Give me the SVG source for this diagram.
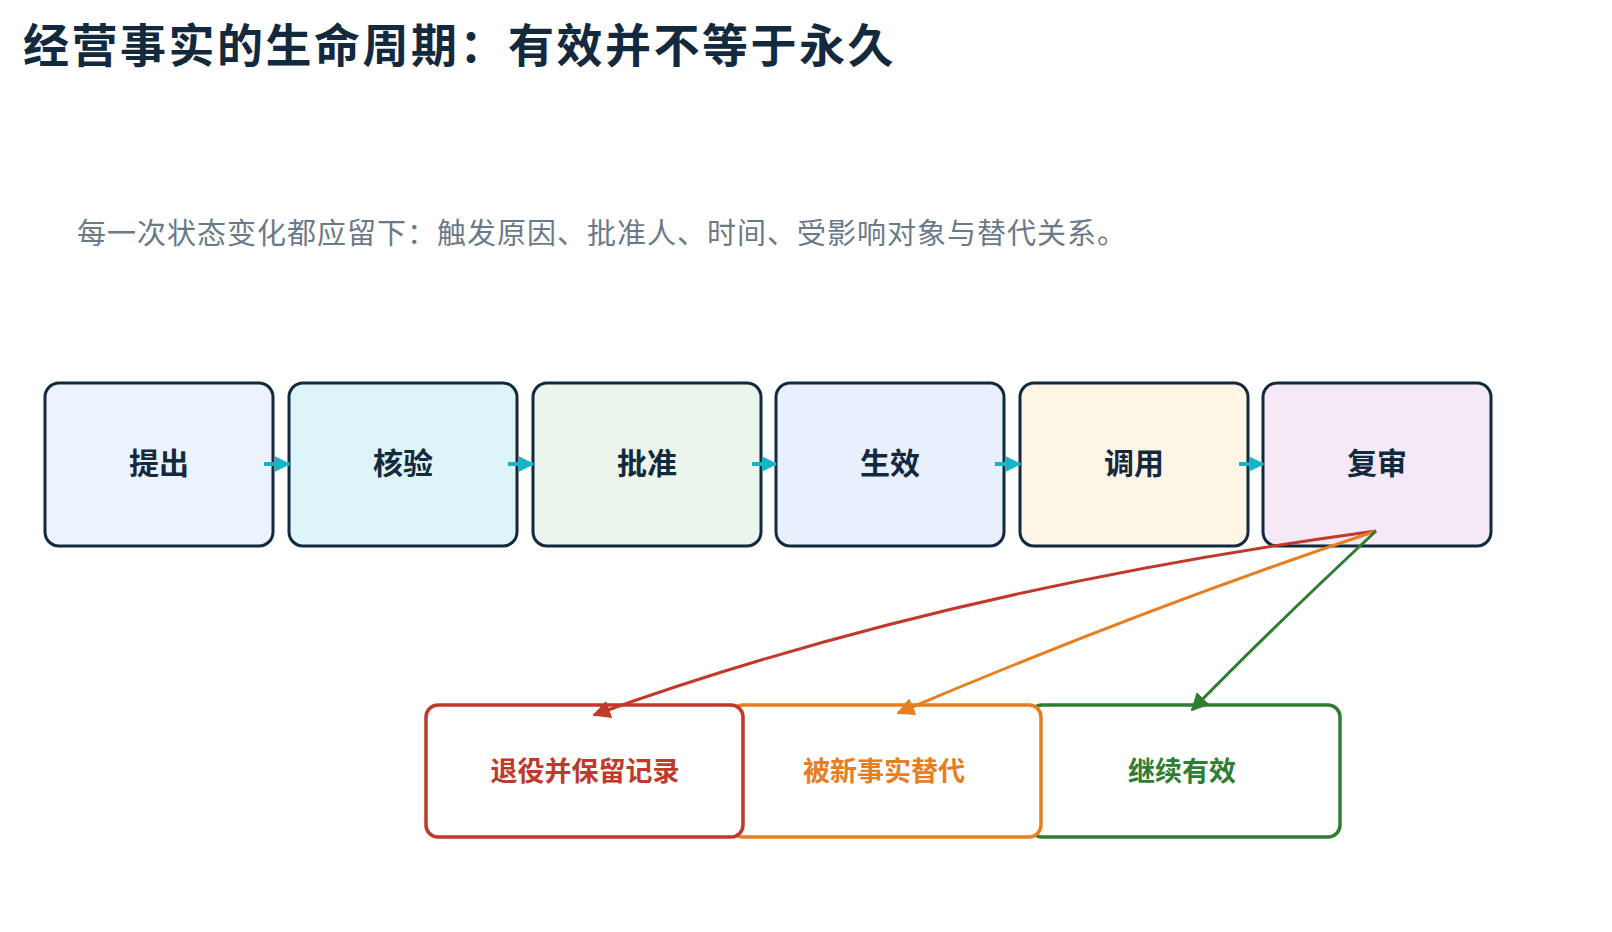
<svg xmlns="http://www.w3.org/2000/svg" width="1612" height="932" viewBox="0 0 1612 932">
<defs>
<style>
text{font-family:"Noto Sans CJK SC","Noto Sans",sans-serif;}
.t{font-size:46px;font-weight:700;fill:#13293d;letter-spacing:2.5px}
.s{font-size:29px;fill:#6b7a8a;letter-spacing:1px}
.n rect{stroke:#13293d;stroke-width:3}
.n text{font-size:30px;font-weight:700;fill:#13293d;text-anchor:middle}
.o text{font-size:27px;font-weight:700;text-anchor:middle}
.o rect{fill:#fff;stroke-width:3.5}
.f{fill:none;stroke:#17b3c8;stroke-width:4}
</style>
<marker id="mc" viewBox="0 0 10 10" refX="9" refY="5" markerWidth="4" markerHeight="4" orient="auto"><path d="M0,0L10,5L0,10z" fill="#17b3c8"/></marker>
<marker id="mr" viewBox="0 0 10 10" refX="9" refY="5" markerWidth="6" markerHeight="6" orient="auto"><path d="M0,0L10,5L0,10z" fill="#c0392b"/></marker>
<marker id="mo" viewBox="0 0 10 10" refX="9" refY="5" markerWidth="6" markerHeight="6" orient="auto"><path d="M0,0L10,5L0,10z" fill="#e67e22"/></marker>
<marker id="mg" viewBox="0 0 10 10" refX="9" refY="5" markerWidth="6" markerHeight="6" orient="auto"><path d="M0,0L10,5L0,10z" fill="#2e7d32"/></marker>
</defs>
<rect width="1612" height="932" fill="#fff"/>
<text class="t" x="23" y="62">经营事实的生命周期：有效并不等于永久</text>
<text class="s" x="77" y="244">每一次状态变化都应留下：触发原因、批准人、时间、受影响对象与替代关系。</text>
<g id="n1" class="n"><rect x="45" y="383" width="228" height="163" rx="14" fill="#edf3fe"/><text x="159" y="474">提出</text></g>
<g id="n2" class="n"><rect x="289" y="383" width="228" height="163" rx="14" fill="#ddf5f8"/><text x="403" y="474">核验</text></g>
<g id="n3" class="n"><rect x="533" y="383" width="228" height="163" rx="14" fill="#ebf5eb"/><text x="647" y="474">批准</text></g>
<g id="n4" class="n"><rect x="776" y="383" width="228" height="163" rx="14" fill="#e8f0fd"/><text x="890" y="474">生效</text></g>
<g id="n5" class="n"><rect x="1020" y="383" width="228" height="163" rx="14" fill="#fdf5e6"/><text x="1134" y="474">调用</text></g>
<g id="n6" class="n"><rect x="1263" y="383" width="228" height="163" rx="14" fill="#f5e9f7"/><text x="1377" y="474">复审</text></g>
<g id="o3" class="o"><rect x="1030" y="705" width="310" height="132" rx="12" stroke="#2e7d32"/><text x="1182" y="781" fill="#2e7d32">继续有效</text></g>
<g id="o2" class="o"><rect x="731" y="705" width="310" height="132" rx="12" stroke="#e67e22"/><text x="884" y="781" fill="#e67e22">被新事实替代</text></g>
<g id="o1" class="o"><rect x="426" y="705" width="317" height="132" rx="12" stroke="#c0392b"/><text x="585" y="781" fill="#c0392b">退役并保留记录</text></g>
<g id="connectors">
<path class="f" d="M264,464H289" marker-end="url(#mc)"/>
<path class="f" d="M508,464H533" marker-end="url(#mc)"/>
<path class="f" d="M752,464H776" marker-end="url(#mc)"/>
<path class="f" d="M995,464H1020" marker-end="url(#mc)"/>
<path class="f" d="M1239,464H1263" marker-end="url(#mc)"/>
<path d="M1376,531Q940,590 594,715" fill="none" stroke="#c0392b" stroke-width="3" marker-end="url(#mr)"/>
<path d="M1376,531Q1140,610 898,713" fill="none" stroke="#e67e22" stroke-width="3" marker-end="url(#mo)"/>
<path d="M1376,531Q1270,630 1192,710" fill="none" stroke="#2e7d32" stroke-width="3" marker-end="url(#mg)"/>
</g>
</svg>
